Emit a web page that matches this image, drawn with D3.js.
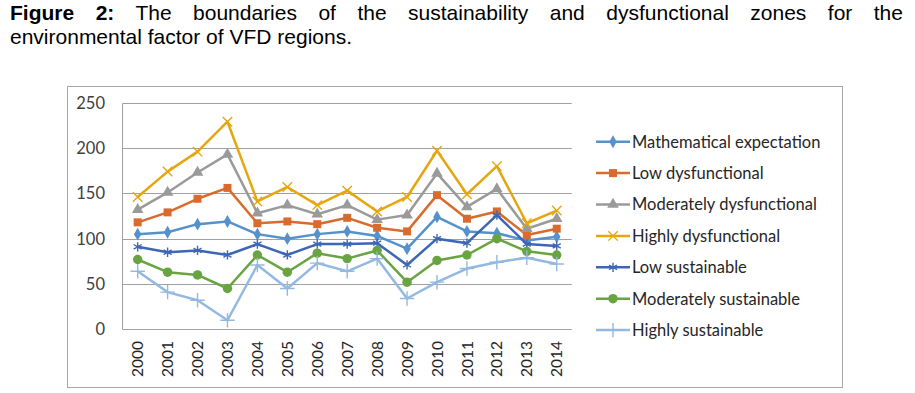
<!DOCTYPE html>
<html>
<head>
  <script src="https://d3js.org/d3.v7.min.js"></script>
  <style type="text/css">
    body {
      margin: 0;
      background-color: #ffffff;
      width: 915px;
      height: 393px;
      position: relative;
      overflow: hidden;
    }
    .caption {
      position: absolute;
      left: 10px;
      width: 893px;
      font-family: 'Liberation Sans', Arial, sans-serif;
      font-size: 21px;
      color: #000000;
      line-height: 23px;
      white-space: nowrap;
    }
    #cap1 { top: 1px; text-align: justify; text-align-last: justify; white-space: normal; }
    #cap2 { top: 24.5px; }
    svg { position: absolute; left: 0; top: 0; }
  </style>
</head>
<body>
<div class="caption" id="cap1"><b>Figure 2:</b> The boundaries of the sustainability and dysfunctional zones for the</div>
<div class="caption" id="cap2">environmental factor of VFD regions.</div>

<script>
  var years = ["2000", "2001", "2002", "2003", "2004", "2005", "2006", "2007", "2008", "2009", "2010", "2011", "2012", "2013", "2014"];
  var yTicks = [0, 50, 100, 150, 200, 250];
  var seriesNames = ["Mathematical expectation", "Low dysfunctional", "Moderately dysfunctional", "Highly dysfunctional",
                     "Low sustainable", "Moderately sustainable", "Highly sustainable"];

  var mathExpectation     = [105, 107, 116, 119, 105, 100, 105, 108, 103, 89, 124, 108, 106, 98, 102];
  var lowDysfunctional    = [118, 129, 144, 156, 117, 119, 116, 123, 112, 108, 148, 122, 130, 104, 111];
  var modDysfunctional    = [132, 151, 173, 193, 128, 137, 127, 137, 121, 126, 172, 135, 155, 111, 122];
  var highDysfunctional   = [146, 174, 196, 229, 141, 157, 137, 153, 130, 146, 197, 149, 180, 117, 131];
  var lowSustainable      = [91, 85, 87, 82, 94, 82, 94, 94, 95, 71, 100, 95, 126, 94, 92];
  var modSustainable      = [77, 63, 60, 45, 82, 63, 84, 78, 87, 52, 76, 82, 100, 86, 82];
  var highSustainable     = [64, 41, 32, 10, 71, 45, 73, 64, 78, 34, 52, 67, 74, 79, 72];

  var seriesValues = [mathExpectation, lowDysfunctional, modDysfunctional, highDysfunctional,
                      lowSustainable, modSustainable, highSustainable];
  var colors = ["#5592cc", "#d96b2e", "#9a9a9a", "#e6a610", "#3e66b6", "#69a443", "#93b9e2"];
  var symbols = [d3.symbolDiamond, d3.symbolSquare, d3.symbolTriangle, d3.symbolTimes,
                 d3.symbolAsterisk, d3.symbolCircle, d3.symbolPlus];
  var symSizes = [48, 64, 58, 60, 60, 70, 70];
  var stroked = [false, false, false, true, true, false, true];

  var svg = d3.select("body").append("svg").attr("width", 915).attr("height", 393);

  // chart frame
  svg.append("rect").attr("x", 67.5).attr("y", 86.5).attr("width", 775).attr("height", 301)
    .attr("fill", "#ffffff").attr("stroke", "#a6a6a6").attr("stroke-width", 1);

  var x = d3.scaleBand().domain(years).range([122.7, 571.7]);
  var y = d3.scaleLinear().domain([0, 250]).range([329.3, 102.7]);

  // gridlines
  svg.append("g").selectAll("line").data(yTicks.slice(1)).enter().append("line")
    .attr("x1", 122.7).attr("x2", 571.7)
    .attr("y1", function (d) { return Math.round(y(d)) + 0.5; })
    .attr("y2", function (d) { return Math.round(y(d)) + 0.5; })
    .attr("stroke", "#a0a0a0").attr("stroke-width", 1);

  // axes lines
  svg.append("line").attr("x1", 122.5).attr("x2", 122.5).attr("y1", Math.round(y(250)) + 0.5).attr("y2", Math.round(y(0)) + 0.5)
    .attr("stroke", "#a0a0a0");
  svg.append("line").attr("x1", 122.7).attr("x2", 571.7).attr("y1", Math.round(y(0)) + 0.5).attr("y2", Math.round(y(0)) + 0.5)
    .attr("stroke", "#a0a0a0");

  // y labels
  svg.append("g").selectAll("text").data(yTicks).enter().append("text")
    .attr("x", 105).attr("y", function (d) { return y(d); }).attr("dy", "0.36em")
    .attr("text-anchor", "end")
    .style("font-family", "Lato, 'Open Sans', sans-serif").style("font-size", "16.5px").style("fill", "#404040")
    .text(function (d) { return d; });

  // x labels
  svg.append("g").selectAll("text").data(years).enter().append("text")
    .attr("transform", function (d) { return "translate(" + (x(d) + x.bandwidth() / 2) + ",341) rotate(-90)"; })
    .attr("dy", "0.36em").attr("text-anchor", "end")
    .style("font-family", "Lato, 'Open Sans', sans-serif").style("font-size", "15.5px").style("fill", "#262626")
    .text(function (d) { return d; });

  var line = d3.line()
    .x(function (d, i) { return x(years[i]) + x.bandwidth() / 2; })
    .y(function (d) { return y(d); });

  function drawMarker(g, si, cx, cy) {
    g.append("path")
      .attr("d", d3.symbol().type(symbols[si]).size(symSizes[si])())
      .attr("transform", "translate(" + cx + "," + cy + ")")
      .attr("fill", stroked[si] ? "none" : colors[si])
      .attr("stroke", colors[si])
      .attr("stroke-width", stroked[si] ? 1.4 : 0);
  }

  seriesValues.forEach(function (vals, si) {
    var g = svg.append("g");
    g.append("path").datum(vals).attr("d", line)
      .attr("fill", "none").attr("stroke", colors[si]).attr("stroke-width", 2.5).attr("stroke-linejoin", "round");
    vals.forEach(function (v, i) {
      drawMarker(g, si, x(years[i]) + x.bandwidth() / 2, y(v));
    });
  });

  // legend
  var legend = svg.append("g");
  seriesNames.forEach(function (name, si) {
    var ly = 141.7 + si * 31.4;
    legend.append("line").attr("x1", 596).attr("x2", 630).attr("y1", ly).attr("y2", ly)
      .attr("stroke", colors[si]).attr("stroke-width", 2.5);
    drawMarker(legend, si, 613, ly);
    legend.append("text").attr("x", 632).attr("y", ly).attr("dy", "0.36em")
      .style("font-family", "Lato, 'Open Sans', sans-serif").style("font-size", "16.5px").style("fill", "#262626")
      .text(name);
  });
</script>
</body>
</html>
